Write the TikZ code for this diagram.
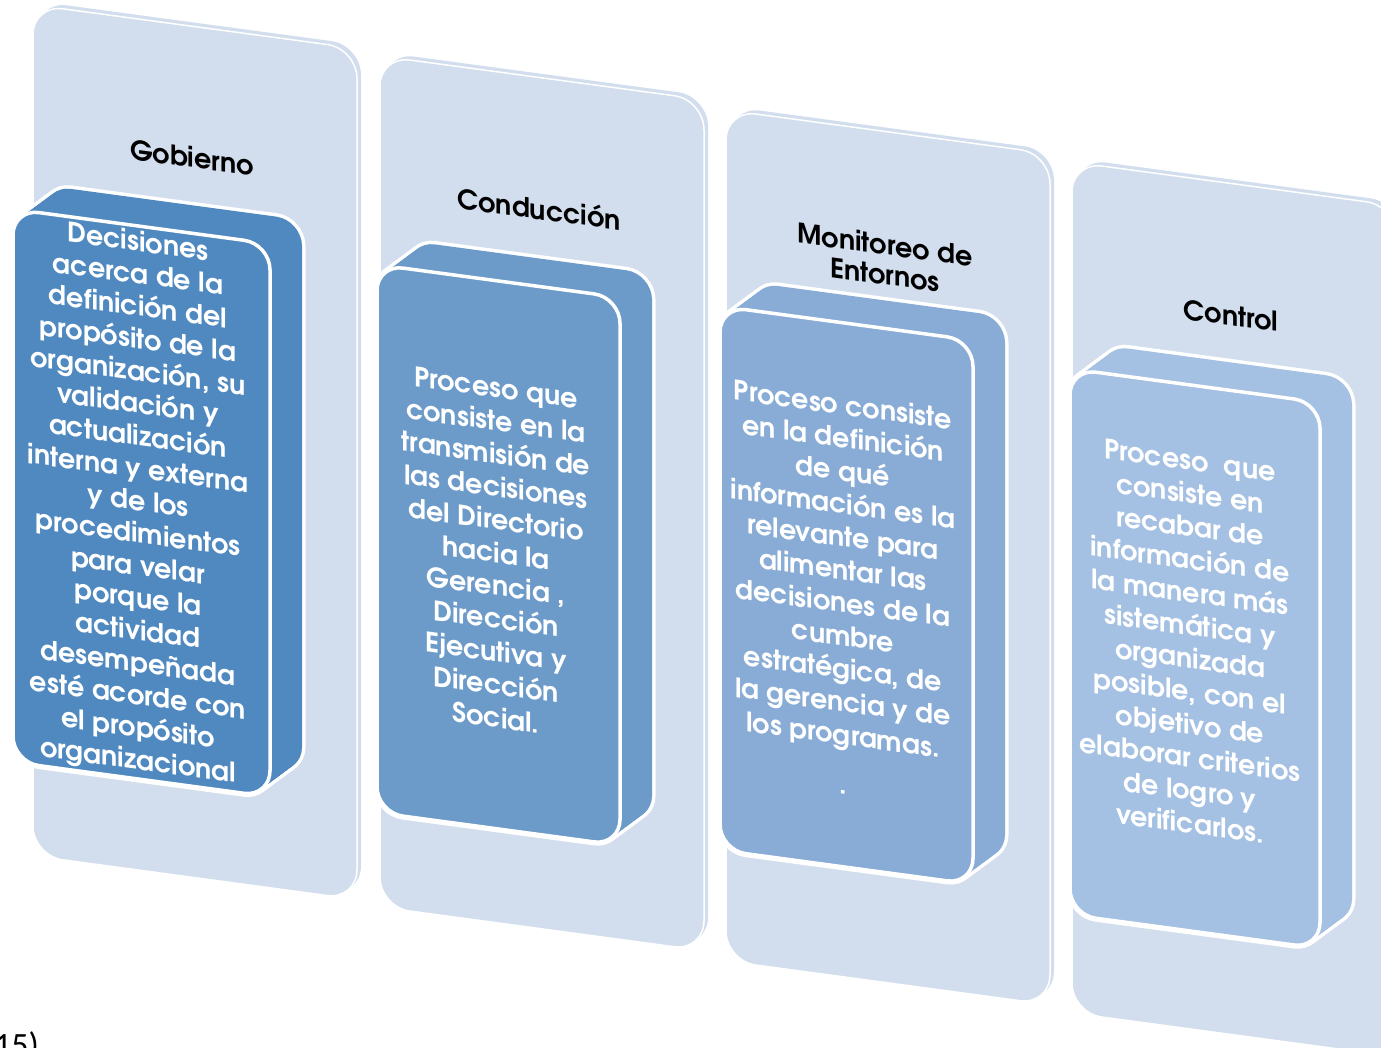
\documentclass[tikz,border=0pt]{standalone}
\usepackage{fontspec}
\setmainfont{TeX Gyre Adventor}
\newfontfamily\capfont{Carlito}
\definecolor{panelc}{RGB}{210,222,237}
\definecolor{boxA}{RGB}{79,137,192}
\definecolor{boxB}{RGB}{108,155,201}
\definecolor{boxC}{RGB}{136,172,214}
\definecolor{boxD}{RGB}{164,192,226}
\tikzset{
  titletext/.style={font=\bfseries\fontsize{27}{30}\selectfont, text=black, align=center, transform shape, inner sep=0pt},
  boxtext/.style={font=\bfseries\fontsize{27}{33}\selectfont, text=white, align=center, transform shape, inner sep=0pt},
}
\newcommand\slabpanel{%
  \fill[panelc, rounded corners=30] (4,-4) rectangle (328,847);
  \draw[white, line width=1.5, fill=panelc, rounded corners=30] (0,0) rectangle (324,851);
}
\newcommand\cuboid[5]{%
  \foreach \t in {0,0.0625,...,1.01}{
    \draw[white, line width=7, rounded corners=26] ({#2+\t*32},{#3-\t*28}) rectangle ({#4+\t*32},{#5-\t*28});
  }
  \foreach \t in {0,0.0625,...,1.01}{
    \fill[#1, rounded corners=26] ({#2+\t*32},{#3-\t*28}) rectangle ({#4+\t*32},{#5-\t*28});
  }
  \draw[white, line width=3.5, fill=#1, rounded corners=26] (#2,#3) rectangle (#4,#5);
}
\begin{document}
\begin{tikzpicture}[x=1pt,y=-1pt]
\useasboundingbox (0,0) rectangle (1381,1048);
% column 1
\begin{scope}[shift={(33,4.8)}, yslant=-0.135]
  \slabpanel
  \node[titletext] (g) at (159,131) {Gobierno};
  \cuboid{boxA}{-20}{207}{237}{760}
  \node[boxtext, font=\bfseries\fontsize{27}{32.4}\selectfont] (gt) at (105,484) {Decisiones\\acerca de la\\definición del\\propósito de la\\organización, su\\validación y\\actualización\\interna y externa\\y de los\\procedimientos\\para velar\\porque la\\actividad\\desempeñada\\esté acorde con\\el propósito\\organizacional};
\end{scope}
% column 2
\begin{scope}[shift={(380,56)}, yslant=-0.135]
  \slabpanel
  \node[titletext] (c) at (159,131) {Conducción};
  \cuboid{boxB}{-3}{209}{240}{757}
  \node[boxtext] (ct) at (116,481) {Proceso que\\consiste en la\\transmisión de\\las decisiones\\del Directorio\\hacia la\\Gerencia ,\\Dirección\\Ejecutiva y\\Dirección\\Social.};
\end{scope}
% column 3
\begin{scope}[shift={(726,110)}, yslant=-0.135]
  \slabpanel
  \node[titletext] (m) at (159,128) {Monitoreo de\\Entornos};
  \cuboid{boxC}{-6}{197}{247}{741}
  \node[boxtext] (mt) at (117,468) {Proceso consiste\\en la definición\\de qué\\información es la\\relevante para\\alimentar las\\decisiones de la\\cumbre\\estratégica, de\\la gerencia y de\\los programas.\\[16pt].};
\end{scope}
% column 4
\begin{scope}[shift={(1072,162)}, yslant=-0.135]
  \slabpanel
  \node[titletext] (k) at (159,132) {Control};
  \cuboid{boxD}{-2}{207}{248}{753}
  \node[boxtext] (kt) at (118,464) {Proceso\ \ que\\consiste en\\recabar de\\información de\\la manera más\\sistemática y\\organizada\\posible, con el\\objetivo de\\elaborar criterios\\de logro y\\verificarlos.};
\end{scope}
\node[anchor=base west, inner sep=0pt, font=\capfont\fontsize{34}{40}\selectfont] (cap) at (-6,1056) {15)};
\end{tikzpicture}
\end{document}
